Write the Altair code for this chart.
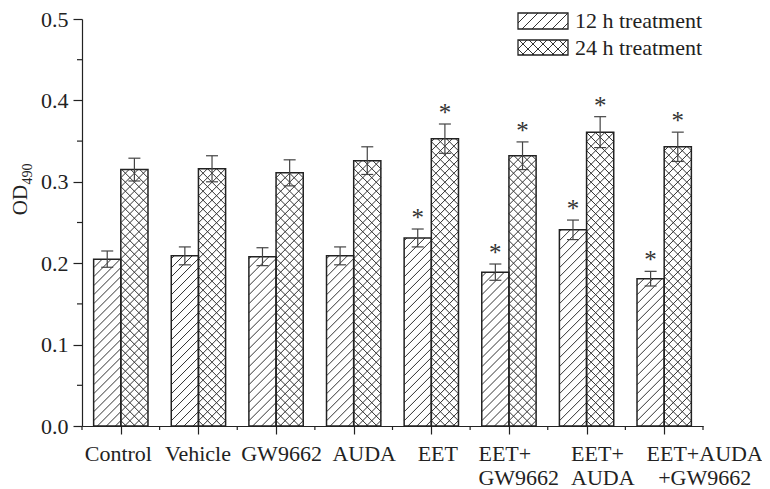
import json
import numpy as np
import pandas as pd
import altair as alt

# ---------------- data ----------------
categories = ["Control", "Vehicle", "GW9662", "AUDA", "EET",
              "EET+\nGW9662", "EET+\nAUDA", "EET+AUDA\n+GW9662"]
series = ["12 h treatment", "24 h treatment"]
od_12h = [0.205, 0.209, 0.208, 0.209, 0.231, 0.189, 0.241, 0.181]
err_12h = [0.010, 0.011, 0.011, 0.011, 0.011, 0.010, 0.012, 0.009]
od_24h = [0.315, 0.316, 0.311, 0.326, 0.353, 0.332, 0.361, 0.343]
err_24h = [0.014, 0.016, 0.016, 0.017, 0.018, 0.017, 0.019, 0.018]
sig_12h = [False, False, False, False, True, True, True, True]
sig_24h = [False, False, False, False, True, True, True, True]
y_ticks = [0.0, 0.1, 0.2, 0.3, 0.4, 0.5]
y_minor = [0.05, 0.15, 0.25, 0.35, 0.45]

# ---------------- layout ----------------
W, H = 621, 407
TOP = 11
YMAX = 0.5
n = len(categories)
sx = W / n          # px per x unit
sy = H / YMAX       # px per y unit
BAR = 0.35          # bar width in group units
CAP = 6 / sx        # half cap width
STEP = 9.0          # hatch spacing (px)
FONT = "Liberation Serif"
FS = 22
INK = "#222222"
# label placement (px offset from the tick, alignment) as in the original
label_dx = [-3, -1, 5, 10, 6, -31, -16, 40]
label_align = ["center", "center", "center", "center", "center",
               "left", "left", "center"]


def hatch(x0, x1, y0, y1, direction, step=STEP):
    pw = (x1 - x0) * sx
    ph = (y1 - y0) * sy
    segs = []
    if direction > 0:  # "/"
        for c in np.arange(-pw + step * 0.6, ph, step):
            xa = max(0.0, -c)
            xb = min(pw, ph - c)
            if xb - xa > 0.3:
                segs.append((x0 + xa / sx, y0 + (xa + c) / sy,
                             x0 + xb / sx, y0 + (xb + c) / sy))
    else:  # "\"
        for c in np.arange(step * 0.6, ph + pw, step):
            xa = max(0.0, c - ph)
            xb = min(pw, c)
            if xb - xa > 0.3:
                segs.append((x0 + xa / sx, y0 + (c - xa) / sy,
                             x0 + xb / sx, y0 + (c - xb) / sy))
    return segs


bar_rows, hatch_rows = [], []
for i in range(n):
    c = i + 0.5
    for s, (vals, errs, sigs) in enumerate([(od_12h, err_12h, sig_12h),
                                             (od_24h, err_24h, sig_24h)]):
        x0 = c - BAR if s == 0 else c
        x1 = c if s == 0 else c + BAR
        v, e = vals[i], errs[i]
        bar_rows.append(dict(x0=x0, x1=x1, base=0.0, val=v, lo=v - e, hi=v + e,
                             xc=(x0 + x1) / 2, cl=(x0 + x1) / 2 - CAP,
                             cr=(x0 + x1) / 2 + CAP,
                             star="*" if sigs[i] else "", series=series[s]))
        dirs = [1] if s == 0 else [1, -1]
        for d in dirs:
            for seg in hatch(x0, x1, 0.0, v, d):
                hatch_rows.append(dict(hx=seg[0], hy=seg[1], hx2=seg[2], hy2=seg[3]))

# legend (positions in plot pixels converted to data units)
leg_left, leg_right = 436, 486
leg_rows_px = [(13 - 8 - TOP, 29 - 8 - TOP), (40 - 8 - TOP, 55 - 8 - TOP)]
leg_rows, leg_text = [], []
for s, (t, b) in enumerate(leg_rows_px):
    x0, x1 = leg_left / sx, leg_right / sx
    y1, y0 = (H - t) / sy, (H - b) / sy
    leg_rows.append(dict(x0=x0, x1=x1, base=y0, val=y1))
    leg_text.append(dict(tx=(leg_right + 7) / sx, ty=(y0 + y1) / 2, label=series[s]))
    dirs = [1] if s == 0 else [1, -1]
    for d in dirs:
        for seg in hatch(x0, x1, y0, y1, d, step=10.0):
            hatch_rows.append(dict(hx=seg[0], hy=seg[1], hx2=seg[2], hy2=seg[3]))

bars = pd.DataFrame(bar_rows)
hatches = pd.DataFrame(hatch_rows)
legend_boxes = pd.DataFrame(leg_rows)
legend_text = pd.DataFrame(leg_text)
minor_y = pd.DataFrame({"v": y_minor})
bounds = pd.DataFrame({"b": list(range(n + 1))})

label_lines = json.dumps([c.split("\n") for c in categories])
offset_cond = {"condition": [{"test": f"floor(datum.value) == {i}", "value": d}
                             for i, d in enumerate(label_dx)], "value": 0}
align_cond = {"condition": [{"test": f"floor(datum.value) == {i}", "value": a}
                            for i, a in enumerate(label_align) if a != "center"],
              "value": "center"}

xscale = alt.Scale(domain=[0, n], nice=False, zero=False)
yscale = alt.Scale(domain=[0, YMAX], nice=False)
xaxis = alt.Axis(values=[i + 0.5 for i in range(n)],
                 labelExpr=f"{label_lines}[floor(datum.value)]",
                 title=None, grid=False, tickSize=8, labelPadding=9,
                 labelLineHeight=24, labelFontSize=FS, labelFont=FONT,
                 labelColor=INK, domainColor=INK, tickColor=INK,
                 domainWidth=1.2, tickWidth=1.2, labelAngle=0,
                 labelOverlap=False, labelBound=False, labelFlush=False,
                 labelOffset=offset_cond, labelAlign=align_cond)
yaxis = alt.Axis(values=y_ticks, format=".1f", title=None, grid=False,
                 tickSize=9, labelPadding=5, labelFontSize=FS, labelFont=FONT,
                 labelColor=INK, domainColor=INK, tickColor=INK,
                 domainWidth=1.2, tickWidth=1.2, labelOverlap=False,
                 labelBound=False, labelFlush=False)


def X(f):
    return alt.X(f, type="quantitative", scale=xscale, axis=xaxis)


def Y(f):
    return alt.Y(f, type="quantitative", scale=yscale, axis=yaxis)


fill = alt.Chart(bars).mark_rect(fill="white", stroke=None).encode(
    x=X("x0"), x2="x1", y=Y("base"), y2="val")
hatch_layer = alt.Chart(hatches).mark_rule(color="#333333", strokeWidth=1).encode(
    x=X("hx"), y=Y("hy"), x2="hx2", y2="hy2")
outline = alt.Chart(bars).mark_rect(fill="white", fillOpacity=0, stroke=INK,
                                    strokeWidth=1.5).encode(
    x=X("x0"), x2="x1", y=Y("base"), y2="val")
err_v = alt.Chart(bars).mark_rule(color="#444444", strokeWidth=1.2).encode(
    x=X("xc"), y=Y("lo"), y2="hi")
cap_top = alt.Chart(bars).mark_rule(color="#444444", strokeWidth=1.2).encode(
    x=X("cl"), x2="cr", y=Y("hi"))
cap_bot = alt.Chart(bars).mark_rule(color="#444444", strokeWidth=1.2).encode(
    x=X("cl"), x2="cr", y=Y("lo"))
stars = alt.Chart(bars).mark_text(font=FONT, fontSize=25, color="#333333",
                                  baseline="alphabetic", dy=-3).encode(
    x=X("xc"), y=Y("hi"), text="star:N")

minor_ticks_y = alt.Chart(minor_y).mark_rule(color=INK, strokeWidth=1.2).encode(
    y=Y("v"), x=alt.value(-5), x2=alt.value(0))
minor_ticks_x = alt.Chart(bounds).mark_rule(color=INK, strokeWidth=1.2).encode(
    x=X("b"), y=alt.value(H), y2=alt.value(H + 4))

leg_fill = alt.Chart(legend_boxes).mark_rect(fill="white").encode(
    x=X("x0"), x2="x1", y=Y("base"), y2="val")
leg_outline = alt.Chart(legend_boxes).mark_rect(fill="white", fillOpacity=0,
                                                stroke=INK, strokeWidth=1.3).encode(
    x=X("x0"), x2="x1", y=Y("base"), y2="val")
leg_labels = alt.Chart(legend_text).mark_text(font=FONT, fontSize=FS, color=INK,
                                              align="left", baseline="middle").encode(
    x=X("tx"), y=Y("ty"), text="label:N")

title_od = alt.Chart(pd.DataFrame({"t": ["OD"]})).mark_text(
    font=FONT, fontSize=21, color=INK, angle=270, align="center",
    baseline="middle").encode(x=alt.value(-61), y=alt.value(200 - 8 - TOP), text="t:N")
title_sub = alt.Chart(pd.DataFrame({"t": ["490"]})).mark_text(
    font=FONT, fontSize=14, color=INK, angle=270, align="center",
    baseline="middle").encode(x=alt.value(-54), y=alt.value(174 - 8 - TOP), text="t:N")

chart = alt.layer(
    leg_fill, fill, hatch_layer, outline, leg_outline, err_v, cap_top, cap_bot,
    stars, minor_ticks_y, minor_ticks_x, leg_labels, title_od, title_sub
).properties(
    width=W, height=H,
    autosize=alt.AutoSizeParams(type="none"),
    padding={"left": 74, "top": TOP, "right": 59, "bottom": 64},
    background="white",
).configure_view(stroke=None)

chart.save("out.html", embed_options={"renderer": "svg", "actions": False})
